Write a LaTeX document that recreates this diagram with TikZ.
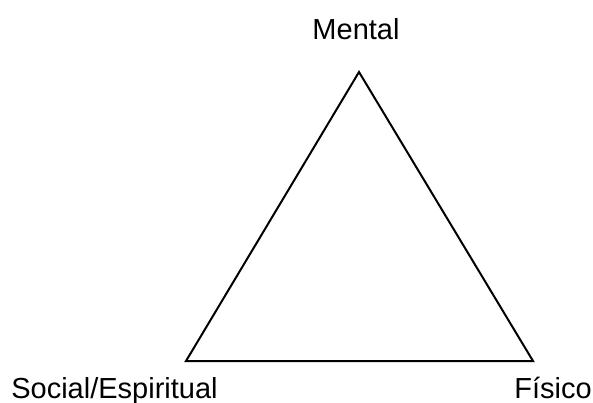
\documentclass[tikz,border=0pt]{standalone}
\usepackage{fontspec}
\setmainfont{Liberation Sans}
\usepackage{tikz}

\begin{document}
\begin{tikzpicture}
[x=1pt,y=-1pt,
side/.style={line width=2pt,black},
label/.style={anchor=base,inner sep=0pt,font=\fontsize{29}{35}\selectfont}]
\useasboundingbox (0,0) rectangle (593,403);
\coordinate (mental) at (359,72);
\coordinate (social) at (186,361);
\coordinate (fisico) at (533,361);
\draw[side](mental) -- (social) -- (fisico) -- cycle;
\node[label] (mentalLabel) at (356,40) {Mental};
\node[label] (socialLabel) at (114.5,398) {Social/Espiritual};
\node[label] (fisicoLabel) at (553,398) {Físico};
\end{tikzpicture}
\end{document}
